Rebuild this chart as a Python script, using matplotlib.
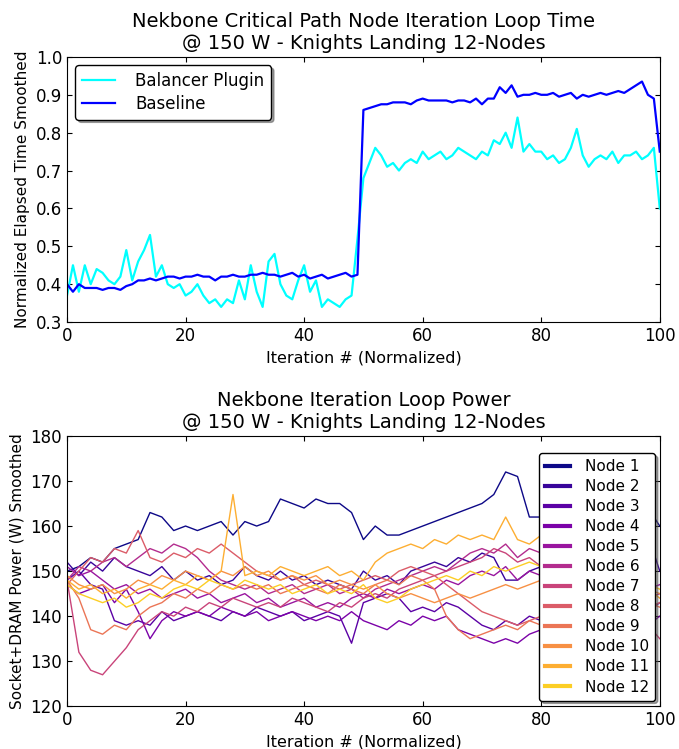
import numpy as np
import matplotlib
matplotlib.use('Agg')
import matplotlib.pyplot as plt

# top panel: normalized iteration time, one sample per normalized iteration
iters = list(range(0, 101))
balancer = [0.37, 0.45, 0.38, 0.45, 0.40, 0.44, 0.43, 0.41, 0.40, 0.42,
            0.49, 0.41, 0.46, 0.49, 0.53, 0.42, 0.45, 0.40, 0.39, 0.40,
            0.37, 0.38, 0.40, 0.37, 0.35, 0.36, 0.34, 0.36, 0.35, 0.41,
            0.36, 0.45, 0.38, 0.34, 0.46, 0.48, 0.40, 0.37, 0.36, 0.41,
            0.45, 0.38, 0.41, 0.34, 0.36, 0.35, 0.34, 0.36, 0.37, 0.52,
            0.68, 0.72, 0.76, 0.74, 0.71, 0.72, 0.70, 0.72, 0.73, 0.72,
            0.75, 0.73, 0.74, 0.75, 0.73, 0.74, 0.76, 0.75, 0.74, 0.73,
            0.75, 0.74, 0.78, 0.77, 0.80, 0.76, 0.84, 0.75, 0.77, 0.75,
            0.75, 0.73, 0.74, 0.72, 0.73, 0.76, 0.81, 0.74, 0.71, 0.73,
            0.74, 0.73, 0.75, 0.72, 0.74, 0.74, 0.75, 0.73, 0.74, 0.76,
            0.60]
baseline = [0.40, 0.38, 0.40, 0.39, 0.39, 0.39, 0.385, 0.39, 0.39, 0.385,
            0.395, 0.40, 0.41, 0.41, 0.415, 0.41, 0.415, 0.42, 0.42, 0.415,
            0.42, 0.42, 0.425, 0.42, 0.42, 0.41, 0.42, 0.42, 0.425, 0.42,
            0.42, 0.425, 0.425, 0.43, 0.425, 0.425, 0.42, 0.425, 0.43, 0.42,
            0.425, 0.415, 0.42, 0.425, 0.415, 0.42, 0.425, 0.43, 0.42, 0.425,
            0.86, 0.865, 0.87, 0.875, 0.875, 0.88, 0.88, 0.88, 0.875, 0.885,
            0.89, 0.885, 0.885, 0.885, 0.885, 0.88, 0.885, 0.885, 0.88, 0.89,
            0.875, 0.89, 0.89, 0.92, 0.905, 0.925, 0.895, 0.90, 0.90, 0.905,
            0.90, 0.90, 0.905, 0.895, 0.90, 0.905, 0.89, 0.90, 0.895, 0.90,
            0.905, 0.90, 0.905, 0.91, 0.905, 0.915, 0.925, 0.935, 0.90, 0.89,
            0.75]

# bottom panel: per-node power, one sample every 2 normalized iterations
power_iters = list(range(0, 101, 2))
node_labels = ['Node %d' % i for i in range(1, 13)]
node_power = [
    [150, 151, 153, 152, 155, 156, 157, 163, 162, 159, 160, 159, 160, 161, 158, 161, 160, 161, 166, 165,
     164, 166, 165, 165, 163, 157, 160, 158, 158, 159, 160, 161, 162, 163, 164, 165, 167, 172, 171, 162,
     162, 161, 162, 163, 162, 163, 162, 163, 162, 164, 160],
    [152, 149, 152, 150, 153, 151, 150, 149, 151, 148, 150, 148, 149, 147, 148, 151, 149, 148, 150, 148,
     149, 147, 148, 147, 146, 150, 148, 149, 147, 150, 151, 152, 151, 153, 152, 154, 153, 148, 148, 150,
     151, 150, 151, 150, 152, 151, 150, 152, 151, 158, 150],
    [148, 150, 147, 146, 139, 138, 139, 138, 141, 139, 140, 141, 140, 139, 141, 140, 142, 141, 140, 141,
     139, 140, 141, 140, 134, 143, 144, 145, 144, 141, 142, 141, 143, 142, 140, 138, 137, 139, 138, 140,
     139, 140, 139, 141, 140, 139, 141, 140, 142, 141, 143],
    [147, 145, 146, 147, 143, 146, 141, 135, 139, 141, 140, 141, 140, 142, 141, 140, 141, 139, 140, 141,
     140, 139, 140, 139, 141, 139, 138, 137, 139, 138, 140, 139, 140, 137, 136, 135, 134, 135, 134, 136,
     137, 136, 137, 138, 137, 136, 138, 137, 136, 138, 140],
    [151, 149, 150, 148, 146, 147, 145, 146, 144, 145, 146, 144, 145, 143, 144, 145, 143, 144, 142, 143,
     144, 142, 143, 142, 144, 145, 144, 146, 145, 146, 147, 146, 148, 147, 149, 150, 149, 151, 148, 150,
     149, 150, 148, 149, 150, 148, 149, 150, 148, 146, 147],
    [148, 151, 150, 152, 153, 151, 153, 155, 154, 156, 155, 153, 150, 148, 147, 146, 147, 145, 146, 147,
     145, 146, 147, 145, 146, 144, 146, 147, 148, 149, 150, 151, 150, 152, 154, 155, 154, 156, 153, 155,
     154, 153, 152, 151, 150, 149, 148, 147, 146, 144, 145],
    [148, 132, 128, 127, 130, 133, 137, 139, 141, 140, 142, 141, 143, 142, 144, 143, 142, 143, 142, 144,
     143, 142, 141, 143, 142, 144, 145, 144, 146, 147, 148, 149, 150, 151, 152, 153, 155, 154, 152, 153,
     151, 150, 149, 148, 147, 146, 145, 144, 143, 138, 135],
    [147, 150, 153, 152, 155, 154, 159, 153, 152, 154, 153, 155, 154, 156, 154, 152, 150, 149, 148, 149,
     147, 148, 147, 146, 147, 148, 149, 148, 150, 151, 150, 149, 147, 145, 143, 141, 140, 139, 138, 139,
     140, 139, 140, 141, 140, 139, 140, 141, 140, 142, 143],
    [148, 144, 137, 136, 138, 137, 140, 142, 143, 145, 144, 146, 145, 147, 146, 147, 146, 147, 145, 146,
     147, 146, 145, 147, 146, 145, 147, 148, 147, 149, 148, 146, 140, 137, 135, 136, 137, 138, 137, 139,
     138, 139, 140, 139, 141, 140, 141, 142, 141, 143, 142],
    [149, 147, 146, 147, 145, 146, 148, 147, 149, 148, 150, 149, 148, 150, 149, 151, 149, 150, 148, 149,
     148, 149, 147, 148, 147, 146, 147, 145, 144, 145, 144, 143, 144, 145, 144, 145, 146, 147, 146, 147,
     148, 147, 148, 147, 148, 149, 148, 147, 148, 146, 145],
    [148, 146, 147, 145, 146, 144, 146, 147, 146, 148, 147, 149, 148, 150, 167, 149, 150, 149, 151, 150,
     149, 150, 151, 149, 150, 148, 152, 154, 155, 156, 155, 157, 156, 158, 157, 158, 157, 162, 157, 156,
     158, 157, 156, 155, 154, 153, 152, 150, 149, 146, 144],
    [147, 145, 144, 143, 144, 142, 143, 145, 144, 146, 147, 146, 148, 147, 146, 148, 147, 146, 147, 145,
     146, 147, 145, 146, 145, 147, 144, 143, 144, 146, 147, 148, 149, 148, 150, 149, 151, 150, 151, 152,
     151, 152, 151, 150, 151, 150, 149, 148, 149, 147, 146],
]

plt.rcParams['xtick.direction'] = 'in'
plt.rcParams['ytick.direction'] = 'in'
plt.rcParams['xtick.top'] = True
plt.rcParams['ytick.right'] = True
plt.rcParams['font.size'] = 12

fig = plt.figure(figsize=(6.79, 7.49), dpi=100)

ax1 = fig.add_axes([0.0987, 0.570, 0.873, 0.354])
ax1.plot(iters, balancer, color='cyan', lw=1.6, label='Balancer Plugin')
ax1.plot(iters, baseline, color='blue', lw=1.6, label='Baseline')
ax1.set_xlim(0, 100)
ax1.set_ylim(0.3, 1.0)
ax1.set_title('Nekbone Critical Path Node Iteration Loop Time\n@ 150 W - Knights Landing 12-Nodes',
              fontsize=14)
ax1.set_xlabel('Iteration # (Normalized)', fontsize=11.5)
ax1.set_ylabel('Normalized Elapsed Time Smoothed', fontsize=11)
ax1.legend(loc='upper left', fancybox=True, shadow=True, fontsize=12, framealpha=1,
           edgecolor='black', handlelength=2.0, handletextpad=1.2,
           borderpad=0.4, labelspacing=0.3)

ax2 = fig.add_axes([0.0987, 0.057, 0.873, 0.361])
colors = plt.cm.plasma(np.linspace(0.0, 0.9, len(node_power)))
for vals, lab, c in zip(node_power, node_labels, colors):
    ax2.plot(power_iters, vals, color=c, lw=1.0, label=lab)
ax2.set_xlim(0, 100)
ax2.set_ylim(120, 180)
ax2.set_title('Nekbone Iteration Loop Power\n@ 150 W - Knights Landing 12-Nodes', fontsize=14)
ax2.set_xlabel('Iteration # (Normalized)', fontsize=11.5)
ax2.set_ylabel('Socket+DRAM Power (W) Smoothed', fontsize=11)
leg = ax2.legend(loc='upper right', bbox_to_anchor=(0.992, 0.937), borderaxespad=0,
                 fancybox=True, shadow=True, fontsize=11, framealpha=1,
                 edgecolor='black', handlelength=1.6, handletextpad=1.0,
                 borderpad=0.4, labelspacing=0.33)
for line in leg.get_lines():
    line.set_linewidth(3)

fig.savefig('out.png', dpi=100)
